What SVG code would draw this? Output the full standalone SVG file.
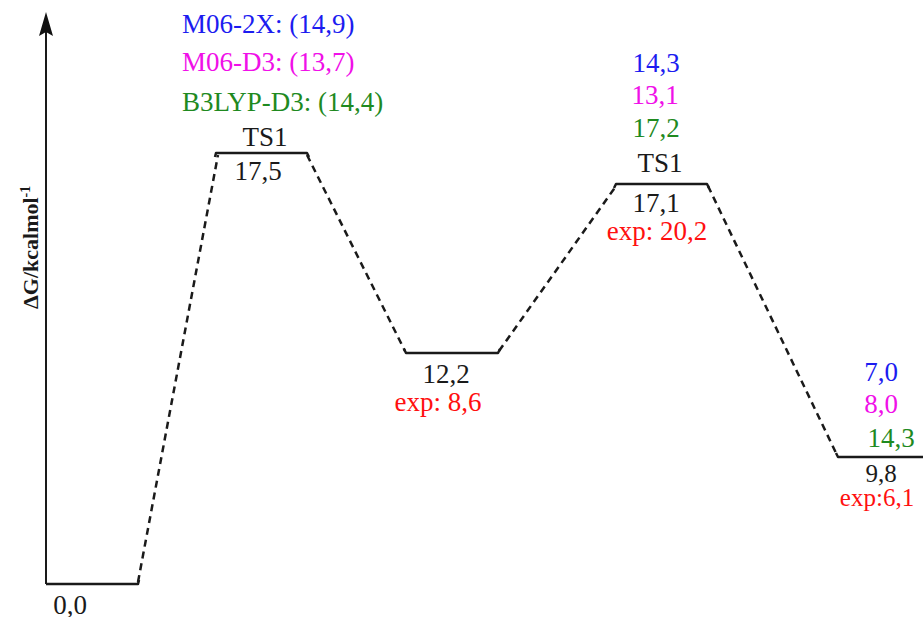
<svg xmlns="http://www.w3.org/2000/svg" width="923" height="617" viewBox="0 0 923 617">
<style>
text{font-family:"Liberation Serif","Times New Roman",serif;font-size:27px}
.c{text-anchor:middle}
.k{fill:#1a1a1a}
.b{fill:#1c1cf0}
.m{fill:#f010e8}
.g{fill:#1f8a1f}
.r{fill:#ff1010}
.s{font-size:25px}
.lvl{fill:none;stroke:#1a1a1a;stroke-width:2.5;stroke-linejoin:round}
.dash{fill:none;stroke:#1a1a1a;stroke-width:2.5;stroke-dasharray:7 5}
.ax{fill:none;stroke:#1a1a1a;stroke-width:2}
</style>
<rect width="923" height="617" fill="#ffffff"/>
<g id="axis">
<line class="ax" x1="46" y1="584" x2="46" y2="30"/>
<path d="M46,12 L53,36 L46,32 L39,36 Z" fill="#111"/>
<text transform="translate(38,309) rotate(-90)" style="font-weight:bold;font-size:22px" class="k">ΔG/kcalmol<tspan dy="-8" style="font-size:14px">-1</tspan></text>
</g>
<g id="connectors">
<line class="dash" x1="138" y1="582" x2="218" y2="155"/>
<line class="dash" x1="307" y1="155" x2="405" y2="351"/>
<line class="dash" x1="499" y1="351" x2="616" y2="186"/>
<line class="dash" x1="708" y1="186" x2="837" y2="455"/>
</g>
<g id="start">
<path class="lvl" d="M46,584 L138,584 L139,580"/>
<text class="c k" x="70" y="614">0,0</text>
</g>
<g id="ts1-left">
<path class="lvl" d="M215,157 L216,153 L307,153 L309,157"/>
<text class="b" x="182" y="33">M06-2X: (14,9)</text>
<text class="m" x="182" y="71">M06-D3: (13,7)</text>
<text class="g" x="182" y="111">B3LYP-D3: (14,4)</text>
<text class="c k" x="265" y="146">TS1</text>
<text class="c k" x="258" y="180">17,5</text>
</g>
<g id="intermediate">
<path class="lvl" d="M404,349 L406,353 L498,353 L500,349"/>
<text class="c k" x="446" y="383">12,2</text>
<text class="c r" x="438" y="411">exp: 8,6</text>
</g>
<g id="ts1-right">
<path class="lvl" d="M614,188 L616,184 L707,184 L709,188"/>
<text class="c b" x="656" y="72">14,3</text>
<text class="c m" x="655" y="104">13,1</text>
<text class="c g" x="656" y="137">17,2</text>
<text class="c k" x="660" y="172">TS1</text>
<text class="c k" x="656" y="212">17,1</text>
<text class="c r" x="657" y="240">exp: 20,2</text>
</g>
<g id="product">
<path class="lvl" d="M836,453 L838,457 L923,457"/>
<text class="c b" x="881" y="381">7,0</text>
<text class="c m" x="881" y="413">8,0</text>
<text class="c g" x="891" y="447">14,3</text>
<text class="c k s" x="881" y="482">9,8</text>
<text class="c r s" x="877" y="506">exp:6,1</text>
</g>
</svg>
